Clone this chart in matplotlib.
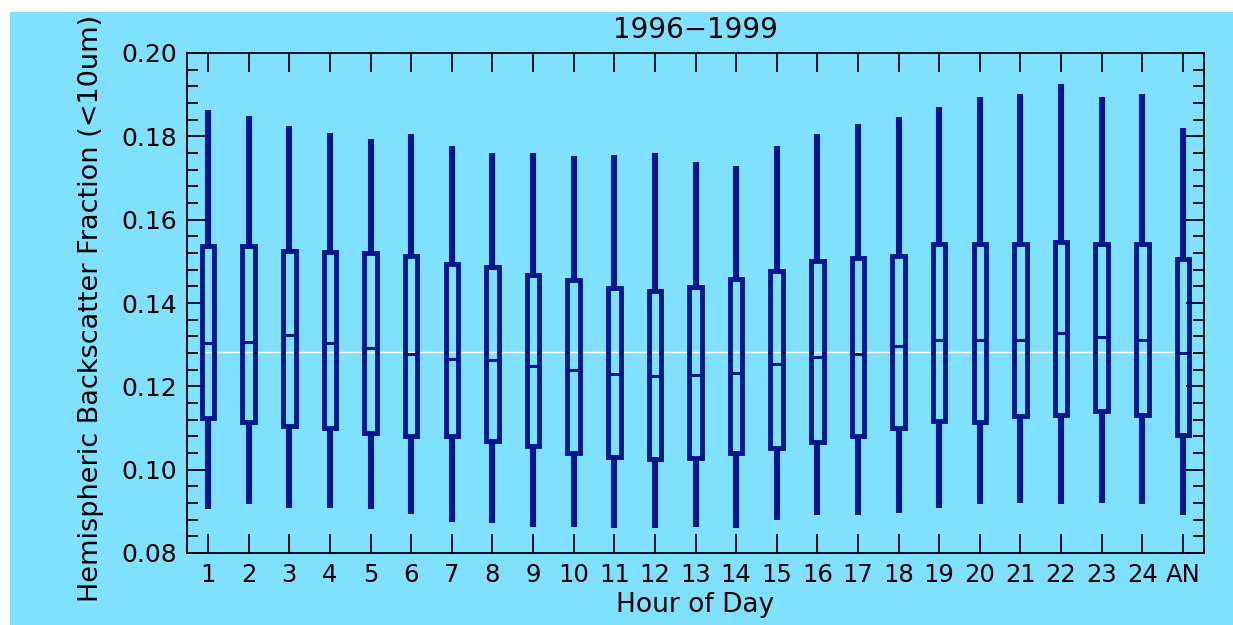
import matplotlib
matplotlib.use("Agg")
import matplotlib.pyplot as plt
from matplotlib.patches import Rectangle
from matplotlib.ticker import MultipleLocator

# hour of day, 1..24 plus the all-hours box "AN"
hours = ["1", "2", "3", "4", "5", "6", "7", "8", "9", "10", "11", "12",
         "13", "14", "15", "16", "17", "18", "19", "20", "21", "22", "23", "24", "AN"]

whisker_hi = [0.1863, 0.1850, 0.1826, 0.1808, 0.1794, 0.1805, 0.1778, 0.1760, 0.1760,
              0.1753, 0.1756, 0.1760, 0.1738, 0.1730, 0.1778, 0.1805, 0.1830, 0.1846,
              0.1871, 0.1894, 0.1902, 0.1926, 0.1894, 0.1902, 0.1819]
box_hi = [0.1538, 0.1538, 0.1526, 0.1523, 0.1520, 0.1513, 0.1494, 0.1486, 0.1468,
          0.1455, 0.1436, 0.1429, 0.1438, 0.1458, 0.1477, 0.1502, 0.1508, 0.1512,
          0.1542, 0.1542, 0.1542, 0.1546, 0.1542, 0.1542, 0.1505]
median = [0.1303, 0.1306, 0.1323, 0.1303, 0.1292, 0.1278, 0.1266, 0.1263, 0.1249,
          0.1239, 0.1229, 0.1226, 0.1228, 0.1233, 0.1253, 0.1271, 0.1277, 0.1297,
          0.1311, 0.1311, 0.1311, 0.1327, 0.1319, 0.1311, 0.1279]
box_lo = [0.1124, 0.1114, 0.1106, 0.1100, 0.1088, 0.1082, 0.1080, 0.1068, 0.1058,
          0.1040, 0.1030, 0.1026, 0.1028, 0.1040, 0.1052, 0.1066, 0.1082, 0.1100,
          0.1116, 0.1114, 0.1128, 0.1132, 0.1140, 0.1132, 0.1084]
whisker_lo = [0.0905, 0.0917, 0.0908, 0.0908, 0.0905, 0.0894, 0.0875, 0.0871, 0.0863,
              0.0863, 0.0859, 0.0859, 0.0863, 0.0859, 0.0879, 0.0891, 0.0891, 0.0895,
              0.0909, 0.0917, 0.0921, 0.0917, 0.0921, 0.0917, 0.0891]
overall_median = 0.1283

blue = "#00178F"
cyan = "#7FE1FF"

fig = plt.figure(figsize=(12.33, 6.25), dpi=100, facecolor="white")
fig.patches.append(Rectangle((10 / 1233, 0), 1, 1 - 12 / 625, transform=fig.transFigure,
                             facecolor=cyan, edgecolor="none", zorder=-10))
ax = fig.add_axes([187 / 1233, 1 - 553 / 625, 1017 / 1233, 500 / 625])
ax.set_facecolor(cyan)

x = list(range(1, len(hours) + 1))
w = 0.31

ax.axhline(overall_median, color="white", lw=1.0, zorder=1)
ax.vlines(x, box_hi, whisker_hi, color=blue, lw=4.4, zorder=3)
ax.vlines(x, whisker_lo, box_lo, color=blue, lw=4.4, zorder=3)
heights = [h - l for h, l in zip(box_hi, box_lo)]
ax.bar(x, heights, width=w, bottom=box_lo, fill=False, edgecolor=blue, linewidth=3.5, zorder=3)
ax.hlines(median, [xi - w / 2 for xi in x], [xi + w / 2 for xi in x], color=blue, lw=2.2, zorder=3)

ax.set_xlim(0.48, 25.52)
ax.set_ylim(0.08, 0.20)
ax.set_xticks(x)
ax.set_xticklabels(hours)
ax.yaxis.set_major_locator(MultipleLocator(0.02))
ax.yaxis.set_minor_locator(MultipleLocator(0.004))
ax.yaxis.set_major_formatter(matplotlib.ticker.FormatStrFormatter("%.2f"))

ax.tick_params(axis="x", which="major", direction="in", top=True, length=14, width=1.3,
               labelsize=17.5, pad=7)
ax.tick_params(axis="y", which="major", direction="in", right=True, length=13, width=1.3,
               labelsize=18, pad=7)
ax.tick_params(axis="y", which="minor", direction="in", right=True, length=8, width=1.3)
for s in ax.spines.values():
    s.set_linewidth(1.3)

ax.text(0.5, 1.046, "1996\u22121999", transform=ax.transAxes, ha="center", va="center", fontsize=20)
ax.set_xlabel("Hour of Day", fontsize=19)
ax.xaxis.set_label_coords(0.5, -0.078)
ax.set_ylabel("Hemispheric Backscatter Fraction (<10um)", fontsize=19.5)
ax.yaxis.set_label_coords(-0.082, 0.49)

# the original image is cropped at the top edge
fig.patches.append(Rectangle((0, 1 - 12 / 625), 1, 12 / 625, transform=fig.transFigure,
                             facecolor="white", edgecolor="none", zorder=10))
fig.patches.append(Rectangle((0, 0), 10 / 1233, 1, transform=fig.transFigure,
                             facecolor="white", edgecolor="none", zorder=10))

fig.savefig("out.png", dpi=100, facecolor="white")
